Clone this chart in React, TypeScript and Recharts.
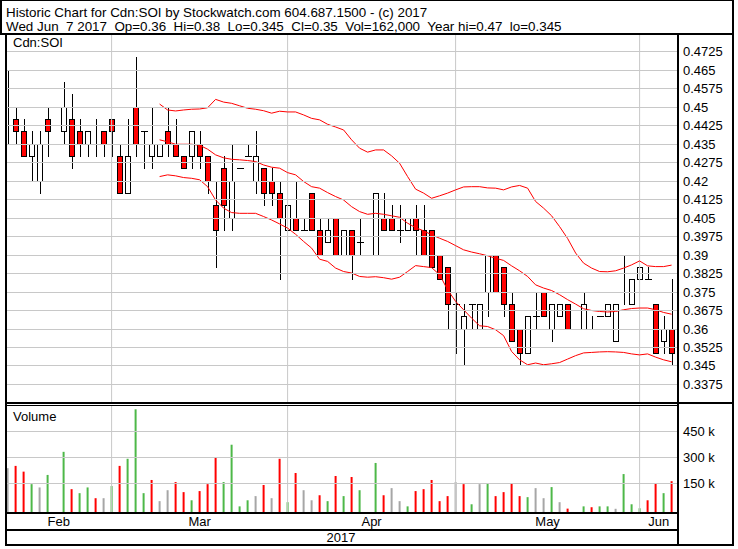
import { ComposedChart, Bar, Line, XAxis, YAxis, ReferenceLine, Cell } from 'recharts'

const FONT = "'Liberation Sans', Arial, sans-serif"
const RED = '#ff0000'
const GREEN = '#4db848'
const GRAY = '#a6a6a6'
const GRID = '#c8c8c8'

// one entry per trading day, Feb 10 - Jun 7 2017; null = no trades that day
const OPEN = [
  0.45, 0.445, 0.44, 0.43, 0.42, 0.445, null, 0.44, 0.445, 0.44,
  0.435, 0.435, 0.44, 0.445, 0.43, 0.415, 0.45, 0.44, 0.43, 0.43,
  0.44, 0.435, 0.43, 0.43, 0.435, 0.43, 0.41, 0.425, 0.405, 0.425,
  0.43, 0.42, 0.425, 0.42, 0.415, 0.4, 0.405, 0.4, 0.415, 0.4,
  0.395, 0.405, 0.39, 0.4, 0.395, null, 0.39, 0.405, 0.405, 0.4,
  0.4, 0.405, 0.4, 0.4, 0.39, 0.385, 0.37, 0.36, 0.37, 0.36,
  0.375, 0.39, 0.385, 0.37, 0.36, 0.35, 0.365, 0.375, 0.36, 0.365,
  0.37, null, 0.36, 0.36, 0.365, 0.365, 0.355, 0.375, 0.37, 0.38,
  0.38, 0.37, 0.355, 0.36,
]
const HIGH = [
  0.465, 0.45, 0.445, 0.44, 0.44, 0.45, null, 0.46, 0.455, 0.445,
  0.44, 0.445, 0.44, 0.445, 0.435, 0.445, 0.47, 0.44, 0.45, 0.435,
  0.45, 0.445, 0.43, 0.44, 0.44, 0.43, 0.42, 0.43, 0.435, 0.425,
  0.435, 0.44, 0.425, 0.425, 0.42, 0.41, 0.42, 0.405, 0.415, 0.405,
  0.405, 0.405, 0.4, 0.4, 0.405, null, 0.415, 0.415, 0.41, 0.41,
  0.405, 0.41, 0.41, 0.4, 0.39, 0.385, 0.375, 0.37, 0.37, 0.37,
  0.39, 0.39, 0.385, 0.375, 0.36, 0.365, 0.375, 0.375, 0.37, 0.37,
  0.37, null, 0.375, 0.365, 0.365, 0.37, 0.37, 0.39, 0.38, 0.385,
  0.385, 0.37, 0.365, 0.38,
]
const LOW = [
  0.435, 0.435, 0.43, 0.42, 0.415, 0.43, null, 0.435, 0.425, 0.43,
  0.43, 0.43, 0.43, 0.43, 0.415, 0.415, 0.43, 0.425, 0.425, 0.43,
  0.43, 0.43, 0.425, 0.425, 0.425, 0.415, 0.385, 0.4, 0.4, 0.425,
  0.43, 0.415, 0.41, 0.41, 0.38, 0.4, 0.4, 0.4, 0.4, 0.39,
  0.395, 0.39, 0.39, 0.38, 0.39, null, 0.39, 0.4, 0.4, 0.395,
  0.4, 0.39, 0.39, 0.385, 0.38, 0.36, 0.35, 0.345, 0.36, 0.36,
  0.365, 0.375, 0.365, 0.355, 0.345, 0.35, 0.36, 0.365, 0.355, 0.365,
  0.36, null, 0.36, 0.36, 0.365, 0.365, 0.355, 0.37, 0.37, 0.38,
  0.38, 0.35, 0.35, 0.345,
]
const CLOSE = [
  0.45, 0.44, 0.43, 0.435, 0.435, 0.44, null, 0.45, 0.43, 0.435,
  0.44, 0.435, 0.435, 0.44, 0.415, 0.43, 0.435, 0.44, 0.435, 0.435,
  0.435, 0.43, 0.425, 0.44, 0.43, 0.42, 0.4, 0.41, 0.42, 0.425,
  0.43, 0.43, 0.415, 0.415, 0.405, 0.41, 0.4, 0.4, 0.4, 0.39,
  0.4, 0.39, 0.4, 0.39, 0.395, null, 0.415, 0.4, 0.4, 0.4,
  0.405, 0.4, 0.39, 0.385, 0.38, 0.37, 0.37, 0.365, 0.37, 0.37,
  0.39, 0.375, 0.37, 0.355, 0.35, 0.365, 0.365, 0.365, 0.37, 0.37,
  0.36, null, 0.37, 0.36, 0.365, 0.37, 0.37, 0.375, 0.38, 0.385,
  0.38, 0.35, 0.36, 0.35,
]
// thousands of shares
const VOLUME = [
  237, 250, 217, 145, 126, 198, null, 331, 116, 93,
  126, 64, 64, 134, 250, 291, 576, 93, 169, 47,
  110, 157, 99, 52, 105, 145, 297, 157, 372, 17,
  52, 76, 140, 64, 291, 41, 209, 110, 52, 81,
  47, 192, 76, 186, 110, null, 267, 81, 122, 47,
  17, 105, 116, 169, 47, 76, 157, 145, 29, 145,
  151, 76, 99, 151, 76, 70, 122, 64, 128, 41,
  4, null, 17, 12, 17, 17, 3, 203, 29, 6,
  52, 151, 93, 162,
]

// bollinger bands, starting at day BAND_START
const BAND_START = 19
const UPPER = [
  0.451, 0.4486, 0.4482, 0.4486, 0.4489, 0.449, 0.4495, 0.4529, 0.4518, 0.4513,
  0.4503, 0.4493, 0.4489, 0.4483, 0.4473, 0.4481, 0.4478, 0.4478, 0.4466, 0.4452,
  0.4446, 0.4428, 0.4417, 0.4405, 0.4365, 0.4331, 0.4315, 0.4324, 0.4324, 0.43,
  0.427, 0.4216, 0.4165, 0.4149, 0.4128, 0.4138, 0.4149, 0.4162, 0.4174, 0.4175,
  0.4175, 0.417, 0.4169, 0.4162, 0.4174, 0.418, 0.4169, 0.4115, 0.4088, 0.4057,
  0.4013, 0.3965, 0.3906, 0.3865, 0.3845, 0.3831, 0.383, 0.3834, 0.3845, 0.3858,
  0.3874, 0.3854, 0.3851, 0.3851, 0.3857,
]
const MIDDLE = [
  0.4365, 0.4357, 0.4347, 0.4347, 0.4347, 0.4343, 0.4327, 0.4304, 0.4292, 0.4286,
  0.4284, 0.4281, 0.4277, 0.4263, 0.4254, 0.425, 0.4232, 0.4223, 0.4196, 0.4175,
  0.4169, 0.4151, 0.4135, 0.4121, 0.4094, 0.4074, 0.4063, 0.4067, 0.4063, 0.4057,
  0.4051, 0.4027, 0.4009, 0.3996, 0.398, 0.3966, 0.3953, 0.3936, 0.3919, 0.391,
  0.3903, 0.3895, 0.3885, 0.3876, 0.3854, 0.3834, 0.3811, 0.3777, 0.3764, 0.3754,
  0.3737, 0.3717, 0.3699, 0.368, 0.3673, 0.3669, 0.3667, 0.3669, 0.3676, 0.3681,
  0.3683, 0.3683, 0.3676, 0.3665, 0.3658,
]
const LOWER = [
  0.4216, 0.4223, 0.4219, 0.4212, 0.4209, 0.4203, 0.4175, 0.4121, 0.4088, 0.407,
  0.4067, 0.4067, 0.4067, 0.4054, 0.404, 0.4024, 0.4007, 0.3982, 0.3953, 0.3926,
  0.3881, 0.3872, 0.3845, 0.3831, 0.3825, 0.3811, 0.3808, 0.381, 0.3806, 0.38,
  0.3808, 0.3831, 0.3855, 0.3851, 0.3847, 0.3818, 0.3757, 0.371, 0.3676, 0.3642,
  0.3611, 0.3608, 0.3595, 0.3571, 0.3507, 0.3473, 0.3453, 0.346, 0.3453, 0.3457,
  0.3462, 0.3476, 0.349, 0.3501, 0.3503, 0.3505, 0.3506, 0.3505, 0.3503, 0.3497,
  0.3493, 0.3497, 0.3484, 0.3473, 0.3465,
]

const PRICE_TICKS = [
  0.4725, 0.465, 0.4575, 0.45, 0.4425, 0.435, 0.4275, 0.42, 0.4125, 0.405,
  0.3975, 0.39, 0.3825, 0.375, 0.3675, 0.36, 0.3525, 0.345, 0.3375,
]
const VOL_TICKS = [150000, 300000, 450000]
const MONTHS = ['Feb', 'Mar', 'Apr', 'May', 'Jun']
const MONTH_LINES = [13, 35, 56, 79] // day index where each new month starts

const X_DOMAIN = [-0.2, 83.8]
const PRICE_DOMAIN = [0.3302, 0.479]
const VOL_DOMAIN = [-15500, 595000]

const PLOT_X = 6
const PLOT_W = 672
const AXIS_W = 56
const PRICE_TOP = 35
const PRICE_H = 367
const VOL_TOP = 406
const VOL_H = 106
const MONTH_ROW = 17

const BOUNDS = [X_DOMAIN[0], ...MONTH_LINES, X_DOMAIN[1]]
const MONTH_MID = MONTHS.map((_, k) => (BOUNDS[k] + BOUNDS[k + 1]) / 2)

function prevClose(i: number) {
  for (let j = i - 1; j >= 0; j--) if (CLOSE[j] != null) return CLOSE[j]
  return null
}

function volColor(i: number) {
  const p = prevClose(i)
  const c = CLOSE[i]
  if (p == null || c === p) return GRAY
  return (c as number) > p ? GREEN : RED
}

const rows = OPEN.map((o, i) => {
  const b = i - BAND_START
  return {
    i,
    open: o,
    high: HIGH[i],
    low: LOW[i],
    close: CLOSE[i],
    range: o == null ? null : [LOW[i], HIGH[i]],
    vol: VOLUME[i] == null ? null : [VOL_DOMAIN[0], (VOLUME[i] as number) * 1000],
    upper: b >= 0 ? UPPER[b] : null,
    middle: b >= 0 ? MIDDLE[b] : null,
    lower: b >= 0 ? LOWER[b] : null,
  }
})

const last = CLOSE.length - 1
const highs = HIGH.filter((v) => v != null) as number[]
const lows = LOW.filter((v) => v != null) as number[]
const HEADER_1 = 'Historic Chart for Cdn:SOI by Stockwatch.com 604.687.1500 - (c) 2017'
const HEADER_2 =
  `Wed Jun  7 2017  Op=${OPEN[last]}  Hi=${HIGH[last]}  Lo=${LOW[last]}  Cl=${CLOSE[last]}  ` +
  `Vol=${((VOLUME[last] as number) * 1000).toLocaleString('en-US')}  Year hi=${Math.max(...highs)}  lo=${Math.min(...lows)}`

// row of a tick value inside a panel of the given top / height / domain
const gridRow = (v: number, top: number, h: number, dom: number[]) =>
  Math.round(top + ((dom[1] - v) / (dom[1] - dom[0])) * h)

function Candle(props: any) {
  const { x, y, width, height, payload } = props
  if (payload.open == null) return null
  const { open, high, low, close } = payload
  const k = Math.round(x + width / 2)
  const span = high - low
  const py = (p: number) => (span > 0 ? y + ((high - p) / span) * height : y)
  const snap = (v: number) => Math.round(v) + 0.5
  const top = snap(py(Math.max(open, close)))
  const bot = snap(py(Math.min(open, close)))
  return (
    <g shapeRendering='crispEdges'>
      <line x1={k + 0.5} x2={k + 0.5} y1={snap(py(high)) - 0.5} y2={snap(py(low)) + 0.5} stroke='#000' />
      {open === close ? (
        <line x1={k - 3} x2={k + 4} y1={top} y2={top} stroke='#000' />
      ) : (
        <rect x={k - 2.5} y={top} width={5} height={bot - top} fill={close < open ? RED : '#fff'} stroke='#000' />
      )}
    </g>
  )
}

const AxisLabel = ({ x, y, payload, fmt }: any) => (
  <text x={x} y={y + 5} fontSize={13} fontFamily={FONT} fill='#000'>
    {fmt(payload.value)}
  </text>
)

const MonthLabel = ({ x, y, payload }: any) => (
  <text x={x} y={y + 14} fontSize={13} fontFamily={FONT} fill='#000' textAnchor='middle'>
    {MONTHS[MONTH_MID.indexOf(payload.value)]}
  </text>
)

const Frame = ({ x, y, w, h }: { x: number; y: number; w: number; h: number }) => (
  <rect x={x} y={y} width={w} height={h} fill='#000' />
)

const monthLines = () =>
  MONTH_LINES.map((m) => <ReferenceLine key={m} x={m} stroke={GRID} strokeWidth={1} ifOverflow='visible' />)

export default function App() {
  return (
    <div style={{ position: 'absolute', left: 0, top: 0, width: 738, height: 549, background: '#fff' }}>
      <div style={{ position: 'absolute', left: PLOT_X, top: PRICE_TOP }}>
        <ComposedChart width={PLOT_W + AXIS_W} height={PRICE_H} data={rows} margin={{ top: 0, right: 0, bottom: 0, left: 0 }}>
          <XAxis dataKey='i' type='number' domain={X_DOMAIN} allowDataOverflow hide />
          <YAxis
            orientation='right'
            type='number'
            width={AXIS_W}
            domain={PRICE_DOMAIN}
            allowDataOverflow
            ticks={PRICE_TICKS}
            interval={0}
            axisLine={false}
            tickLine={false}
            tickSize={0}
            tickMargin={5}
            tick={<AxisLabel fmt={(v: number) => String(v)} />}
          />
          {monthLines()}
          <Bar dataKey='range' barSize={6} shape={<Candle />} isAnimationActive={false} />
          <Line dataKey='upper' stroke={RED} strokeWidth={1} dot={false} activeDot={false} isAnimationActive={false} />
          <Line dataKey='middle' stroke={RED} strokeWidth={1} dot={false} activeDot={false} isAnimationActive={false} />
          <Line dataKey='lower' stroke={RED} strokeWidth={1} dot={false} activeDot={false} isAnimationActive={false} />
        </ComposedChart>
      </div>

      <div style={{ position: 'absolute', left: PLOT_X, top: VOL_TOP }}>
        <ComposedChart width={PLOT_W + AXIS_W} height={VOL_H + MONTH_ROW} data={rows} margin={{ top: 0, right: 0, bottom: 0, left: 0 }}>
          <XAxis
            dataKey='i'
            type='number'
            domain={X_DOMAIN}
            allowDataOverflow
            ticks={MONTH_MID}
            interval={0}
            height={MONTH_ROW}
            axisLine={false}
            tickLine={false}
            tickSize={0}
            tickMargin={0}
            tick={<MonthLabel />}
          />
          <YAxis
            orientation='right'
            type='number'
            width={AXIS_W}
            domain={VOL_DOMAIN}
            allowDataOverflow
            ticks={VOL_TICKS}
            interval={0}
            axisLine={false}
            tickLine={false}
            tickSize={0}
            tickMargin={5}
            tick={<AxisLabel fmt={(v: number) => `${v / 1000} k`} />}
          />
          {monthLines()}
          <Bar dataKey='vol' barSize={2} isAnimationActive={false}>
            {rows.map((r) => (
              <Cell key={r.i} fill={volColor(r.i)} />
            ))}
          </Bar>
        </ComposedChart>
      </div>

      <svg width={738} height={549} style={{ position: 'absolute', left: 0, top: 0, pointerEvents: 'none' }}>
        {PRICE_TICKS.map((t) => (
          <rect key={`p${t}`} x={PLOT_X + 1} y={gridRow(t, PRICE_TOP, PRICE_H, PRICE_DOMAIN)} width={PLOT_W - 1} height={1} fill={GRID} />
        ))}
        {VOL_TICKS.map((t) => (
          <rect key={`v${t}`} x={PLOT_X + 1} y={gridRow(t, VOL_TOP, VOL_H, VOL_DOMAIN)} width={PLOT_W - 1} height={1} fill={GRID} />
        ))}
        <Frame x={0} y={0} w={734} h={1} />
        <Frame x={0} y={0} w={2} h={35} />
        <Frame x={0} y={33} w={734} h={2} />
        <Frame x={732} y={0} w={2} h={546} />
        <Frame x={5} y={33} w={2} h={513} />
        <Frame x={677} y={33} w={2} h={513} />
        <Frame x={5} y={402} w={729} h={2} />
        <Frame x={5} y={405} w={673} h={1} />
        <Frame x={5} y={512} w={673} h={2} />
        <Frame x={5} y={529} w={673} h={2} />
        <Frame x={5} y={544} w={729} h={2} />
        <g fontFamily={FONT} fill='#000'>
          <text x={6} y={17} fontSize={13.4} style={{ whiteSpace: 'pre' }}>{HEADER_1}</text>
          <text x={6} y={30.5} fontSize={13.4} style={{ whiteSpace: 'pre' }}>{HEADER_2}</text>
          <text x={13} y={47} fontSize={13}>Cdn:SOI</text>
          <text x={13} y={421} fontSize={13}>Volume</text>
          <text x={341} y={542} fontSize={13} textAnchor='middle'>2017</text>
        </g>
      </svg>
    </div>
  )
}
